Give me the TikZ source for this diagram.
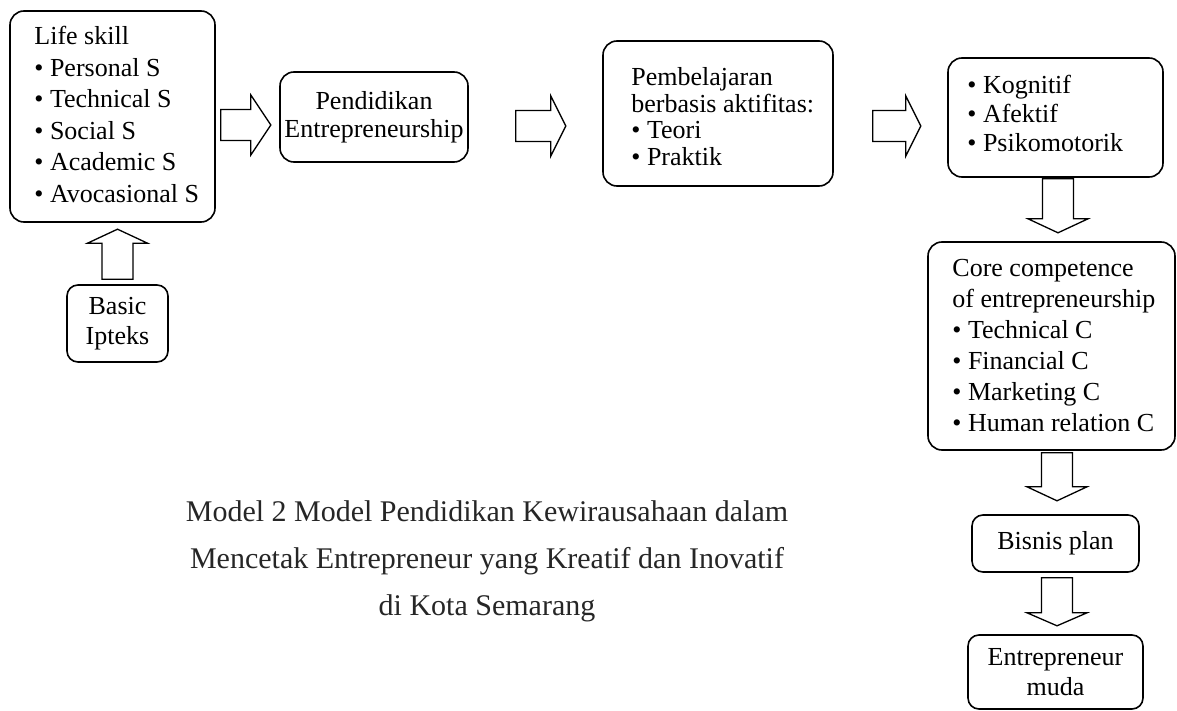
\documentclass[tikz,border=0pt]{standalone}
\usepackage{fontspec}
\setmainfont{Liberation Serif}
\usetikzlibrary{calc}
\begin{document}
\begin{tikzpicture}[x=1pt,y=-1pt,
  boxshape/.style={draw, line width=1.6pt, rounded corners=14pt, inner sep=0pt},
  boxtext/.style={inner sep=0pt, text=black},
  arrowline/.style={draw, line width=1.3pt, fill=white, line join=miter},
  pics/barrow/.style 2 args={code={\draw[arrowline] (0,-15.5) -- ({#1-#2},-15.5) -- ({#1-#2},-30) -- (#1,0) -- ({#1-#2},30) -- ({#1-#2},15.5) -- (0,15.5) -- cycle;}}
]
\useasboundingbox (0,0) rectangle (1177,711);

% Life skill
\node[boxshape, minimum width=205pt, minimum height=211pt] (lifebox) at (112.5,116.5) {};
\node[boxtext, anchor=west, align=left, font=\fontsize{26}{31.5}\selectfont] (lifetxt) at ($(lifebox.west)+(25,-2)$)
  {Life skill\\ \textbullet{} Personal S\\ \textbullet{} Technical S\\ \textbullet{} Social S\\ \textbullet{} Academic S\\ \textbullet{} Avocasional S};

% Basic Ipteks
\node[boxshape, rounded corners=11pt, minimum width=101pt, minimum height=77pt, align=center, font=\fontsize{26}{30}\selectfont] (basic) at (117.5,323.5) {Basic\\Ipteks};

% Pendidikan Entrepreneurship
\node[boxshape, minimum width=188pt, minimum height=90pt, align=center, font=\fontsize{26}{28}\selectfont] (pend) at (374,117) {Pendidikan\\Entrepreneurship};

% Pembelajaran
\node[boxshape, minimum width=230pt, minimum height=145pt] (pembox) at (718,113.5) {};
\node[boxtext, anchor=west, align=left, font=\fontsize{26}{26.5}\selectfont] (pemtxt) at ($(pembox.west)+(29,3)$)
  {Pembelajaran\\ berbasis aktifitas:\\ \textbullet{} Teori\\ \textbullet{} Praktik};

% Kognitif
\node[boxshape, minimum width=215pt, minimum height=119pt] (kogbox) at (1055.5,117.5) {};
\node[boxtext, anchor=west, align=left, font=\fontsize{26}{29}\selectfont] (kogtxt) at ($(kogbox.west)+(20,-4)$)
  {\textbullet{} Kognitif\\ \textbullet{} Afektif\\ \textbullet{} Psikomotorik};

% Core competence
\node[boxshape, minimum width=247pt, minimum height=208pt] (corebox) at (1051.5,346) {};
\node[boxtext, anchor=west, align=left, font=\fontsize{26}{31}\selectfont] (coretxt) at ($(corebox.west)+(25,0)$)
  {Core competence\\ of entrepreneurship\\ \textbullet{} Technical C\\ \textbullet{} Financial C\\ \textbullet{} Marketing C\\ \textbullet{} Human relation C};

% Bisnis plan
\node[boxshape, rounded corners=11pt, minimum width=167pt, minimum height=57pt, font=\fontsize{26}{30}\selectfont] (bisnis) at (1055.5,543.5) {Bisnis plan};

% Entrepreneur muda
\node[boxshape, rounded corners=11pt, minimum width=175pt, minimum height=74pt, align=center, font=\fontsize{26}{30}\selectfont] (muda) at (1055.5,672) {Entrepreneur\\muda};

% Block arrows
\path ($(basic.north)+(0,-5)$) pic[rotate=90] {barrow={50}{14}};
\path ($(lifebox.east)+(5,8.5)$) pic {barrow={50}{20}};
\path ($(pend.east)+(47,9)$) pic {barrow={50}{15}};
\path ($(pembox.east)+(39,12.5)$) pic {barrow={48}{15}};
\path ($(kogbox.south)+(2.5,1)$) pic[rotate=-90] {barrow={54}{14}};
\path ($(corebox.south)+(5.5,2)$) pic[rotate=-90] {barrow={48}{14}};
\path ($(bisnis.south)+(1.5,5)$) pic[rotate=-90] {barrow={48}{13}};

% Caption
\node[inner sep=0pt, align=center, text=black!85, font=\fontsize{30}{47}\selectfont] (caption) at (487,561)
  {Model 2 Model Pendidikan Kewirausahaan dalam\\ Mencetak Entrepreneur yang Kreatif dan Inovatif\\ di Kota Semarang};
\end{tikzpicture}
\end{document}
